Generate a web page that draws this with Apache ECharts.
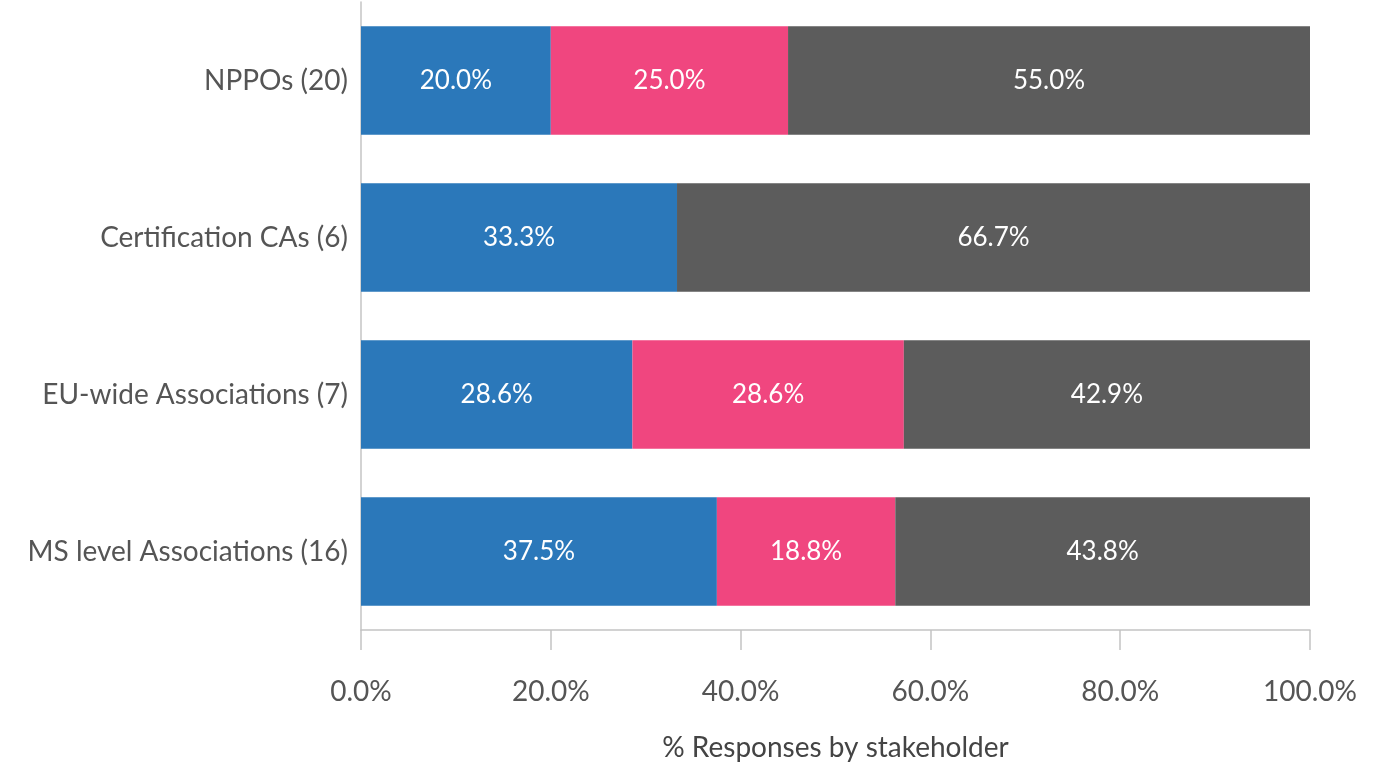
<!DOCTYPE html>
<html>
<head>
<meta charset="utf-8">
<script src="https://cdn.jsdelivr.net/npm/echarts@6/dist/echarts.min.js"></script>
<style>
  html, body { margin: 0; padding: 0; background: #ffffff; }
  #chart { width: 1388px; height: 770px; }
</style>
</head>
<body>
<div id="chart"></div>
<script>
// Stakeholder groups (respondent count in brackets), top to bottom
const categories = [
  'NPPOs (20)',
  'Certification CAs (6)',
  'EU-wide Associations (7)',
  'MS level Associations (16)'
];

// Share of responses per group, in percent
const seriesNames = ['Option 1', 'Option 2', 'Option 3'];
const option1Values = [20.0, 33.3, 28.6, 37.5];
const option2Values = [25.0, 0.0, 28.6, 18.8];
const option3Values = [55.0, 66.7, 42.9, 43.8];

const xTicks = [0, 20, 40, 60, 80, 100];

const colors = ['#2b78ba', '#f0467f', '#5c5c5c'];
const fontFamily = 'Lato, "Noto Sans", sans-serif';

const chart = echarts.init(document.getElementById('chart'), null, { renderer: 'canvas' });

function makeSeries(name, values, color) {
  return {
    name: name,
    type: 'bar',
    stack: 'total',
    barCategoryGap: '31%',
    data: values,
    itemStyle: { color: color },
    label: {
      show: true,
      position: 'inside',
      color: '#ffffff',
      fontFamily: fontFamily,
      fontSize: 26,
      formatter: p => (p.value > 0 ? p.value.toFixed(1) + '%' : '')
    },
    emphasis: { disabled: true }
  };
}

chart.setOption({
  animation: false,
  grid: { left: 361, right: 78, top: 2, bottom: 140, containLabel: false },
  xAxis: {
    type: 'value',
    min: xTicks[0],
    max: xTicks[xTicks.length - 1],
    interval: 20,
    name: '% Responses by stakeholder',
    nameLocation: 'middle',
    nameGap: 104,
    nameTextStyle: { color: '#444444', fontFamily: fontFamily, fontSize: 28 },
    axisLine: { show: true, lineStyle: { color: '#c4c4c4', width: 1.5 } },
    axisTick: { show: true, length: 20, lineStyle: { color: '#c4c4c4', width: 1.5 } },
    splitLine: { show: false },
    axisLabel: {
      margin: 48,
      color: '#555555',
      fontFamily: fontFamily,
      fontSize: 28,
      formatter: v => v.toFixed(1) + '%'
    }
  },
  yAxis: {
    type: 'category',
    inverse: true,
    data: categories,
    axisLine: { show: true, lineStyle: { color: '#c4c4c4', width: 1.5 } },
    axisTick: { show: false },
    axisLabel: {
      margin: 13,
      padding: [0, 0, 10, 0],
      color: '#555555',
      fontFamily: fontFamily,
      fontSize: 28
    }
  },
  series: [
    makeSeries(seriesNames[0], option1Values, colors[0]),
    makeSeries(seriesNames[1], option2Values, colors[1]),
    makeSeries(seriesNames[2], option3Values, colors[2])
  ]
});
</script>
</body>
</html>
